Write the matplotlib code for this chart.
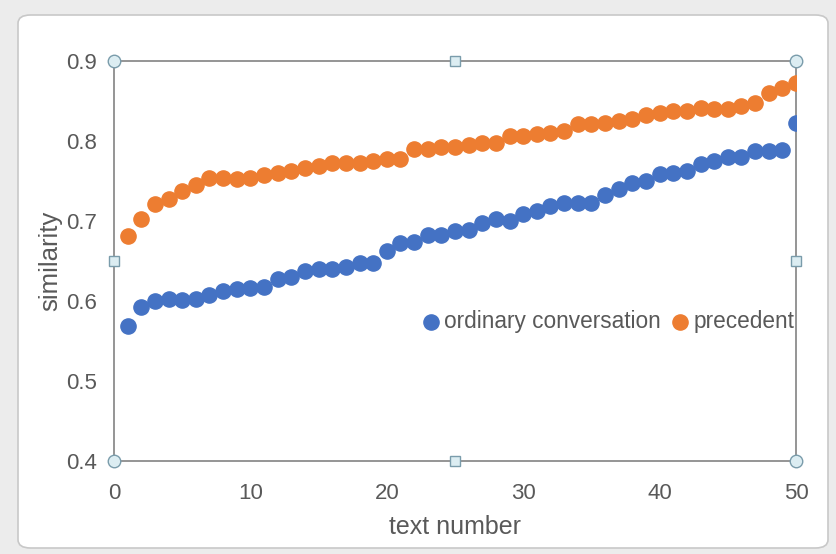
import matplotlib.pyplot as plt
import numpy as np
from matplotlib.patches import FancyBboxPatch

plt.rcParams['font.family'] = ['Liberation Sans Narrow', 'Liberation Sans', 'DejaVu Sans']

text_no = list(range(1, 51))
ordinary = [0.569, 0.593, 0.600, 0.602, 0.601, 0.603, 0.608, 0.613, 0.615, 0.616,
            0.618, 0.628, 0.630, 0.637, 0.640, 0.640, 0.643, 0.647, 0.648, 0.662,
            0.673, 0.674, 0.682, 0.682, 0.687, 0.689, 0.698, 0.702, 0.700, 0.709,
            0.712, 0.719, 0.722, 0.723, 0.722, 0.733, 0.740, 0.748, 0.750, 0.759,
            0.760, 0.762, 0.771, 0.775, 0.780, 0.780, 0.787, 0.787, 0.789, 0.823]
precedent = [0.681, 0.703, 0.721, 0.728, 0.737, 0.745, 0.754, 0.754, 0.753, 0.754,
             0.757, 0.760, 0.763, 0.766, 0.769, 0.772, 0.773, 0.773, 0.775, 0.778,
             0.777, 0.790, 0.790, 0.793, 0.793, 0.795, 0.797, 0.797, 0.806, 0.806,
             0.809, 0.810, 0.812, 0.821, 0.821, 0.822, 0.825, 0.827, 0.832, 0.835,
             0.838, 0.838, 0.841, 0.840, 0.840, 0.844, 0.848, 0.860, 0.866, 0.872]

grey = '#595959'

fig = plt.figure(figsize=(8.36, 5.54), dpi=100)
fig.patch.set_facecolor('#ececec')

# chart frame (white rounded box)
frame = FancyBboxPatch((18 / 836, 6 / 554), 810 / 836, 533 / 554,
                       boxstyle='round,pad=0,rounding_size=0.015',
                       transform=fig.transFigure, facecolor='white',
                       edgecolor='#c8c8c8', linewidth=1.2, zorder=-10)
fig.patches.append(frame)

ax = fig.add_axes([114 / 836, 93 / 554, 682 / 836, 400 / 554])
ax.set_facecolor('none')

ax.scatter(text_no, ordinary, s=120, color='#4472C4', label='ordinary conversation', zorder=3)
ax.scatter(text_no, precedent, s=120, color='#ED7D31', label='precedent', zorder=3)

ax.set_xlim(0, 50)
ax.set_ylim(0.4, 0.9)
ax.set_xticks([0, 10, 20, 30, 40, 50])
ax.set_yticks([0.4, 0.5, 0.6, 0.7, 0.8, 0.9])
ax.set_yticklabels(['0.4', '0.5', '0.6', '0.7', '0.8', '0.9'])
ax.tick_params(length=0, labelsize=16, labelcolor=grey)
ax.tick_params(axis='y', pad=12)
ax.tick_params(axis='x', pad=16)

for s in ax.spines.values():
    s.set_color('#8c8c8c')
    s.set_linewidth(1.3)

ax.set_xlabel('text number', fontsize=18, color=grey, labelpad=8)
ax.set_ylabel('similarity', fontsize=18.5, color=grey, labelpad=3)

ax.legend(loc='center right', bbox_to_anchor=(1.005, 0.348), ncol=2, frameon=False,
          fontsize=16.3, labelcolor=grey, handlelength=0.7, handletextpad=0.25,
          columnspacing=0.5, borderaxespad=0.0, borderpad=0.2, markerscale=1.0)

# selection handles on the plot area
hx = [0, 1, 0, 1]
hy = [0, 0, 1, 1]
ax.plot(hx, hy, 'o', ms=9, mfc='#dcedf2', mec='#7a9cab', mew=1,
        transform=ax.transAxes, clip_on=False, zorder=5)
sx = [0.5, 0.5, 0, 1]
sy = [0, 1, 0.5, 0.5]
ax.plot(sx, sy, 's', ms=7, mfc='#dcedf2', mec='#7a9cab', mew=1,
        transform=ax.transAxes, clip_on=False, zorder=5)

fig.savefig('out.png', dpi=100, facecolor=fig.get_facecolor())
